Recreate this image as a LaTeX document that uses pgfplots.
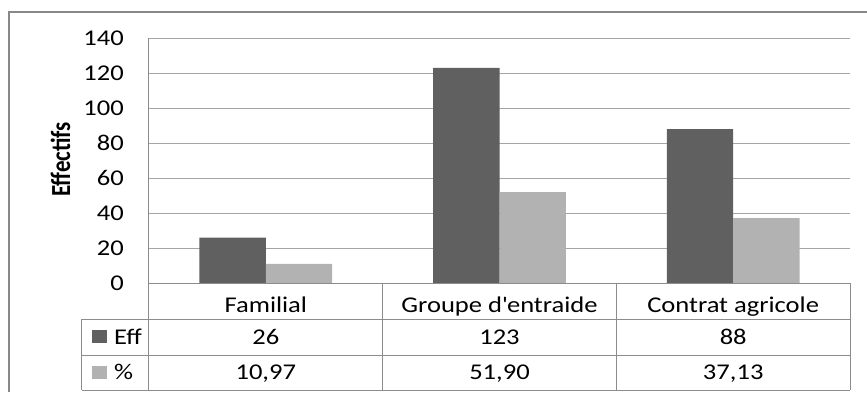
\documentclass[border=0pt]{standalone}
\usepackage{pgfplots}
\pgfplotsset{compat=1.18}
\usepackage{fontspec}
\usepackage{graphicx}
\setmainfont[FakeStretch=1.18]{Carlito}
\newfontfamily\labelfont{Carlito}
\definecolor{darkbar}{RGB}{96,96,96}
\definecolor{lightbar}{RGB}{178,178,178}
\definecolor{gridc}{RGB}{165,165,165}
\definecolor{tablec}{RGB}{140,140,140}
\definecolor{framec}{RGB}{136,136,136}
\begin{document}
\fontsize{22.5}{27}\selectfont
\begin{tikzpicture}[x=1pt,y=1pt]
\useasboundingbox (-149,-109) rectangle (718,283);
\begin{axis}[
 scale only axis, width=701pt, height=245pt,
 xmin=-0.5, xmax=2.5, ymin=0, ymax=140,
 ytick={0,20,...,140},
 xtick={0,1,2}, xticklabels={Familial,{Groupe d\textquotesingle{}entraide},Contrat agricole},
 xticklabel style={anchor=base, inner sep=0pt, yshift=-25pt},
 yticklabel style={anchor=east, inner sep=0pt, xshift=-25pt},
 /pgf/number format/assume math mode=true,
 axis line style={draw=none}, major tick style={draw=none},
 ymajorgrids, grid style={gridc, line width=1pt},
 ybar=0pt, bar width=0.2842,
 clip=false,
]
\addplot[fill=darkbar, draw=none] coordinates {(0,26) (1,123) (2,88)};
\addplot[fill=lightbar, draw=none] coordinates {(0,10.97) (1,51.90) (2,37.13)};
\end{axis}
% frame
\draw[framec, line width=1.5pt] (718,271) -- (-140,271) -- (-140,-109);
% data table
\begin{scope}[tablec, line width=1pt]
\draw (0,0) -- (701,0);
\draw (-67,-36) -- (701,-36);
\draw (-67,-72.3) -- (701,-72.3);
\draw (-67,-107) -- (701,-107);
\draw (-67,-36) -- (-67,-107);
\draw (0,245) -- (0,-107);
\draw (233.7,0) -- (233.7,-107);
\draw (467.3,0) -- (467.3,-107);
\draw (701,0) -- (701,-107);
\end{scope}
\fill[darkbar] (-57,-47) rectangle (-42,-60.3);
\fill[lightbar] (-57,-83) rectangle (-42,-96.3);
\node[anchor=base west, inner sep=0pt] at (-35,-61) {Eff};
\node[anchor=base west, inner sep=0pt] at (-35,-96.5) {\%};
\node[anchor=base, inner sep=0pt] at (116.8,-61) {26};
\node[anchor=base, inner sep=0pt] at (350.5,-61) {123};
\node[anchor=base, inner sep=0pt] at (584.2,-61) {88};
\node[anchor=base, inner sep=0pt] at (116.8,-96.5) {10,97};
\node[anchor=base, inner sep=0pt] at (350.5,-96.5) {51,90};
\node[anchor=base, inner sep=0pt] at (584.2,-96.5) {37,13};
\node at (-88.5,123.5) {\scalebox{1.2}[1]{\rotatebox{90}{\labelfont\bfseries\fontsize{23}{27}\selectfont Effectifs}}};
\end{tikzpicture}
\end{document}
